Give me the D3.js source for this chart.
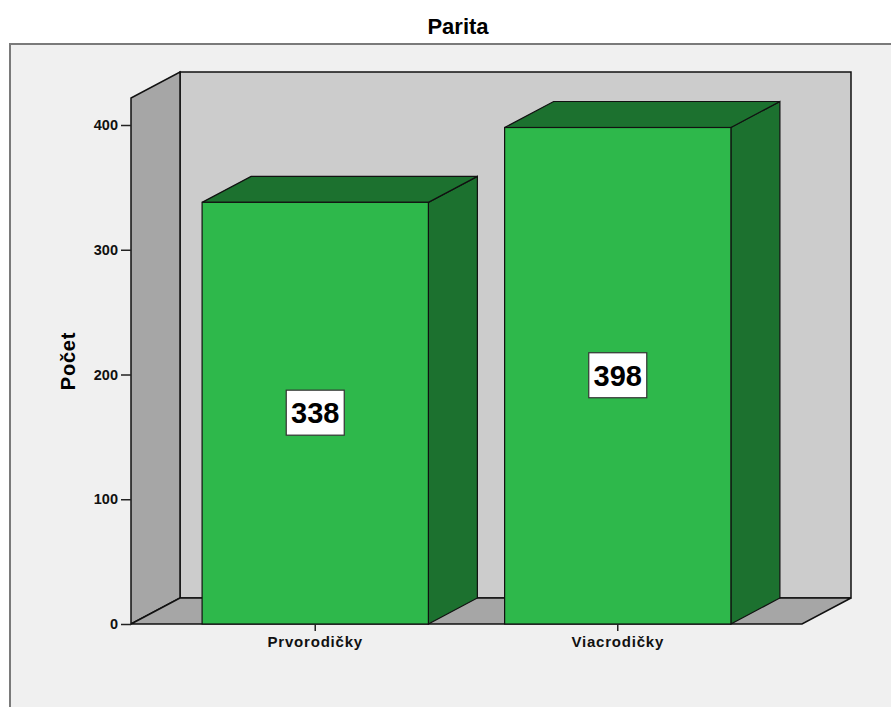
<!DOCTYPE html>
<html>
  <head>
    <meta charset="utf-8" />
    <title>Parita</title>
    <script src="https://d3js.org/d3.v7.min.js"></script>
    <style>
      body { margin: 0; background: #fff; }
      text { font-family: Arial, "Liberation Sans", sans-serif; }
    </style>
  </head>
  <body>
    <div id="chart"></div>
    <script>
      // data
      var categories = ["Prvorodičky", "Viacrodičky"];
      var counts = [338, 398];
      var yTicks = [0, 100, 200, 300, 400];

      var width = 891, height = 707;
      var dx = 49, dy = -26; // 3d depth offset

      var svg = d3.select("#chart").append("svg")
        .attr("width", width).attr("height", height);

      // outer frame
      svg.append("rect")
        .attr("x", 10).attr("y", 44)
        .attr("width", 900).attr("height", 700)
        .attr("fill", "#f0f0f0")
        .attr("stroke", "#7a7a7a").attr("stroke-width", 2);

      svg.append("text")
        .attr("x", 458).attr("y", 34)
        .attr("text-anchor", "middle")
        .attr("font-size", 22).attr("font-weight", "bold")
        .text("Parita");

      var x = d3.scaleBand().domain(categories).range([131, 802])
        .paddingInner(0.252).paddingOuter(0.235);
      var y = d3.scaleLinear().domain([0, 400]).range([624, 125]);

      var x0 = 131, x1 = 802, y0 = y(0), yTop = 98;

      // back wall
      svg.append("rect")
        .attr("x", x0 + dx).attr("y", yTop + dy)
        .attr("width", x1 - x0).attr("height", y0 - yTop)
        .attr("fill", "#cccccc").attr("stroke", "#111").attr("stroke-width", 1.5);

      // left wall
      svg.append("path")
        .attr("d", "M" + [x0, y0] + "L" + [x0, yTop] + "L" + [x0 + dx, yTop + dy] +
          "L" + [x0 + dx, y0 + dy] + "Z")
        .attr("fill", "#a6a6a6").attr("stroke", "#111").attr("stroke-width", 1.5);

      // floor
      svg.append("path")
        .attr("d", "M" + [x0, y0] + "L" + [x1, y0] + "L" + [x1 + dx, y0 + dy] +
          "L" + [x0 + dx, y0 + dy] + "Z")
        .attr("fill", "#a6a6a6").attr("stroke", "#111").attr("stroke-width", 1.5);

      // bars
      var bars = svg.append("g").selectAll("g")
        .data(categories).enter().append("g");

      bars.append("path") // side
        .attr("d", function (d, i) {
          var r = x(d) + x.bandwidth(), t = y(counts[i]);
          return "M" + [r, y0] + "L" + [r, t] + "L" + [r + dx, t + dy] + "L" + [r + dx, y0 + dy] + "Z";
        })
        .attr("fill", "#1c712f").attr("stroke", "#111").attr("stroke-width", 1.2);

      bars.append("path") // top
        .attr("d", function (d, i) {
          var l = x(d), r = l + x.bandwidth(), t = y(counts[i]);
          return "M" + [l, t] + "L" + [r, t] + "L" + [r + dx, t + dy] + "L" + [l + dx, t + dy] + "Z";
        })
        .attr("fill", "#1c712f").attr("stroke", "#111").attr("stroke-width", 1.2);

      bars.append("rect") // front
        .attr("x", function (d) { return x(d); })
        .attr("y", function (d, i) { return y(counts[i]); })
        .attr("width", x.bandwidth())
        .attr("height", function (d, i) { return y0 - y(counts[i]); })
        .attr("fill", "#2eb84b").attr("stroke", "#111").attr("stroke-width", 1.2);

      // value labels
      bars.append("rect")
        .attr("x", function (d) { return x(d) + x.bandwidth() / 2 - 29; })
        .attr("y", function (d, i) { return (y(counts[i]) + y0) / 2 - 23; })
        .attr("width", 58).attr("height", 45)
        .attr("fill", "#fff").attr("stroke", "#333").attr("stroke-width", 1.2);

      bars.append("text")
        .attr("x", function (d) { return x(d) + x.bandwidth() / 2; })
        .attr("y", function (d, i) { return (y(counts[i]) + y0) / 2 + 10; })
        .attr("text-anchor", "middle")
        .attr("font-size", 29).attr("font-weight", "bold")
        .text(function (d, i) { return counts[i]; });

      // y axis
      var yAxis = svg.append("g")
        .attr("transform", "translate(" + x0 + ",0)")
        .call(d3.axisLeft(y).tickValues(yTicks).tickSize(10).tickPadding(3));
      yAxis.select(".domain").remove();
      yAxis.selectAll(".tick line").attr("stroke", "#222").attr("stroke-width", 1.5);
      yAxis.selectAll(".tick text")
        .attr("font-size", 14.5).attr("font-weight", "bold")
        .attr("font-family", "Arial, 'Liberation Sans', sans-serif").attr("fill", "#111");

      // x axis
      var xAxis = svg.append("g")
        .attr("transform", "translate(0," + y0 + ")")
        .call(d3.axisBottom(x).tickSize(7).tickPadding(5));
      xAxis.select(".domain").remove();
      xAxis.selectAll(".tick line").attr("stroke", "#222").attr("stroke-width", 1.5);
      xAxis.selectAll(".tick text")
        .attr("font-size", 15).attr("font-weight", "bold")
        .attr("letter-spacing", 0.8)
        .attr("font-family", "Arial, 'Liberation Sans', sans-serif").attr("fill", "#111");

      svg.append("text")
        .attr("transform", "translate(75,361) rotate(-90)")
        .attr("text-anchor", "middle")
        .attr("font-size", 20).attr("font-weight", "bold")
        .attr("letter-spacing", 0.8)
        .text("Počet");
    </script>
  </body>
</html>
